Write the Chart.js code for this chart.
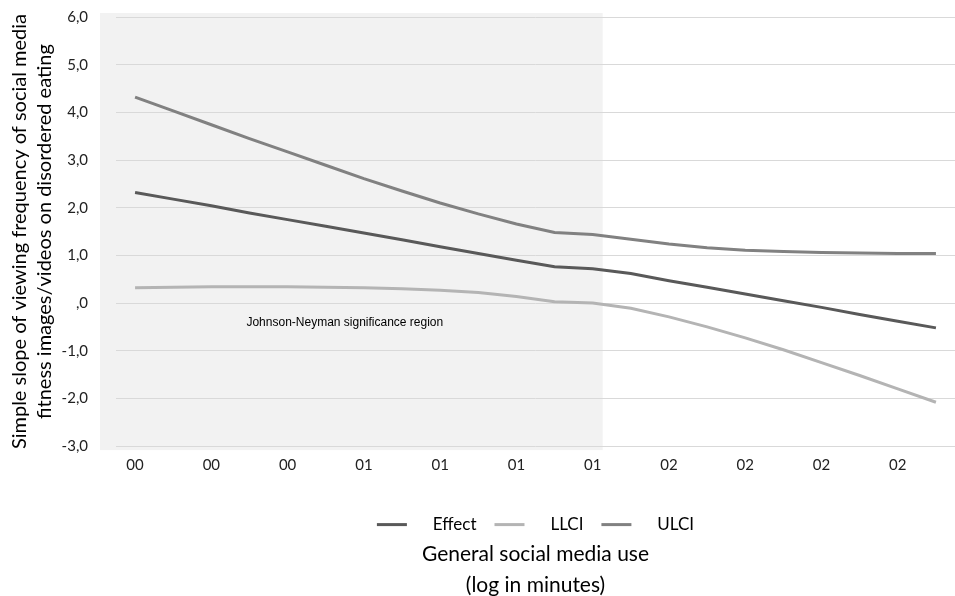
<!DOCTYPE html>
<html>
<head>
<meta charset="utf-8">
<script src="https://cdn.jsdelivr.net/npm/chart.js@4.4.1/dist/chart.umd.min.js"></script>
<style>
  body { margin: 0; background: #fff; }
  #wrap { width: 955px; height: 596px; }
</style>
</head>
<body>
<div id="wrap"><canvas id="jn"></canvas></div>
<script>
// moderator points (21 evenly spaced + the J-N point), label shown every 2nd
const xLabels = ['00', '', '00', '', '00', '', '01', '', '01', '', '01', '', '01', '', '02', '', '02', '', '02', '', '02', '']
const effect = [2.32, 2.18, 2.04, 1.89, 1.75, 1.61, 1.47, 1.33, 1.18, 1.04, 0.90, 0.76, 0.72, 0.62, 0.47, 0.33, 0.19, 0.05, -0.09, -0.24, -0.38, -0.52]
const llci = [0.32, 0.33, 0.34, 0.34, 0.34, 0.33, 0.32, 0.30, 0.27, 0.22, 0.14, 0.03, 0.00, -0.11, -0.29, -0.50, -0.73, -0.98, -1.25, -1.52, -1.80, -2.08]
const ulci = [4.32, 4.03, 3.74, 3.45, 3.17, 2.89, 2.61, 2.35, 2.10, 1.87, 1.66, 1.48, 1.44, 1.34, 1.24, 1.16, 1.11, 1.08, 1.06, 1.05, 1.04, 1.04]
const jnIndex = 12 // last point of the significance region
const regionText = 'Johnson-Neyman significance region'

const FONT = 'Lato, "Open Sans", sans-serif'

// grey shaded J-N region + its caption
const regionPlugin = {
  id: 'jnRegion',
  beforeDraw(chart) {
    const { ctx, chartArea, scales: { x, y } } = chart
    const left = chartArea.left - 16
    const right = x.getPixelForValue(jnIndex) + 10
    const top = y.getPixelForValue(6) - 4
    const bottom = y.getPixelForValue(-3) + 4
    ctx.save()
    ctx.fillStyle = '#f2f2f2'
    ctx.fillRect(left, top, right - left, bottom - top)
    ctx.restore()
  },
  afterDatasetsDraw(chart) {
    const { ctx, scales: { x, y } } = chart
    ctx.save()
    ctx.font = '12px "Liberation Sans", Arial, sans-serif'
    ctx.fillStyle = '#000'
    ctx.textAlign = 'center'
    ctx.textBaseline = 'middle'
    ctx.fillText(regionText, x.getPixelForValue(5.5), y.getPixelForValue(-0.42))
    ctx.restore()
  }
}

const ds = (label, data, color) => ({
  label: label,
  data: data,
  borderColor: color,
  backgroundColor: color,
  borderWidth: 3,
  pointRadius: 0,
  tension: 0,
  fill: false
})

new Chart(document.getElementById('jn'), {
  type: 'line',
  data: {
    labels: xLabels,
    datasets: [
      ds('Effect', effect, '#595959'),
      ds('LLCI', llci, '#b4b4b4'),
      ds('ULCI', ulci, '#818181')
    ]
  },
  plugins: [regionPlugin],
  options: {
    responsive: true,
    maintainAspectRatio: false,
    animation: false,
    devicePixelRatio: 1,
    layout: { padding: { left: 0, right: 0, top: 0, bottom: -4 } },
    plugins: {
      tooltip: { enabled: false },
      legend: {
        position: 'bottom',
        fullSize: false,
        labels: {
          boxWidth: 30,
          boxHeight: 3,
          padding: 18,
          color: '#000',
          font: { family: FONT, size: 17 },
          generateLabels(chart) {
            const items = Chart.defaults.plugins.legend.labels.generateLabels(chart)
            items.forEach(it => { it.text = '    ' + it.text; it.lineWidth = 0 })
            return items
          }
        }
      },
      title: {
        display: true,
        position: 'bottom',
        fullSize: false,
        text: ['General social media use', '(log in minutes)'],
        color: '#000',
        font: { family: FONT, size: 21, weight: 'normal', lineHeight: 1.45 },
        padding: { top: -4, bottom: 0 }
      }
    },
    scales: {
      x: {
        offset: true,
        grid: { display: false },
        border: { display: false },
        ticks: {
          autoSkip: false,
          maxRotation: 0,
          padding: 2,
          color: '#222',
          font: { family: FONT, size: 15 }
        },
        afterFit(scale) { scale.height = 52 }
      },
      y: {
        min: -3,
        max: 6,
        border: { display: false },
        grid: { color: '#d9d9d9', drawTicks: false },
        ticks: {
          stepSize: 1,
          padding: 28,
          color: '#222',
          font: { family: FONT, size: 15 },
          callback(v) {
            if (v === 0) return ',0'
            return v.toFixed(1).replace('.', ',')
          }
        },
        title: {
          display: true,
          text: ['Simple slope of viewing frequency of social media', 'fitness images/videos on disordered eating'],
          color: '#000',
          font: { family: FONT, size: 20, lineHeight: 1.25 },
          padding: { top: 7, bottom: 0 }
        },
        afterFit(scale) {
          scale.width = 116
          // tick padding is also added above/below the axis; keep only the top gap
          scale.paddingTop = 17
          scale.paddingBottom = 9
        }
      }
    }
  }
})
</script>
</body>
</html>
